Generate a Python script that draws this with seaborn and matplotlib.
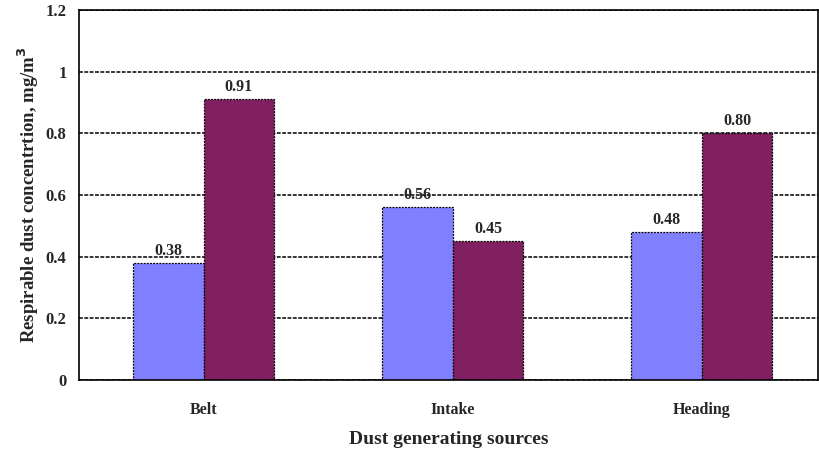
import pandas as pd
import numpy as np
import matplotlib
matplotlib.use("Agg")
import matplotlib.pyplot as plt
import seaborn as sns

# Values
sources = ["Belt", "Intake", "Heading"]
series_a = [0.38, 0.56, 0.48]
series_b = [0.91, 0.45, 0.80]
series_names = ["A", "B"]
bar_colors = ["#8080FF", "#802060"]
y_ticks = [0, 0.2, 0.4, 0.6, 0.8, 1, 1.2]
y_tick_labels = ["0", "0.2", "0.4", "0.6", "0.8", "1", "1.2"]

data = pd.DataFrame({
    "source": sources * 2,
    "value": series_a + series_b,
    "series": [series_names[0]] * 3 + [series_names[1]] * 3,
})

sns.set_style("white")
plt.rcParams['font.family'] = ['Liberation Serif', 'DejaVu Serif']
plt.rcParams['font.weight'] = 'bold'

fig = plt.figure(figsize=(8.19, 4.54), dpi=100)
ax = fig.add_axes([79 / 819, (454 - 380) / 454, 739 / 819, 370 / 454])

sns.barplot(data=data, x="source", y="value", hue="series",
            palette=bar_colors, width=0.57, ax=ax, legend=False,
            edgecolor="black", linewidth=0.9, saturation=1)

for patch in ax.patches:
    patch.set_linestyle((0, (1.5, 1)))

# Value labels above bars
for container in ax.containers:
    ax.bar_label(container, fmt="%.2f", padding=3, fontsize=11.5,
                 fontweight='bold')

ax.set_ylim(0, 1.2)
ax.set_xlim(-0.5, 2.5 - 8 / 249)
ax.set_yticks(y_ticks)
ax.set_yticklabels(y_tick_labels)
ax.yaxis.grid(True, color="black", linestyle=(0, (2.5, 1)), linewidth=1.1)
ax.set_axisbelow(True)

ax.set_xticks([0.5, 1.5], minor=True)
ax.tick_params(axis='x', which='major', length=0, pad=16, labelsize=11.5)
ax.tick_params(axis='x', which='minor', length=5, direction='in',
               width=0.9, color='black')
ax.tick_params(axis='y', length=0, pad=9, labelsize=12)

for spine in ax.spines.values():
    spine.set_visible(True)
    spine.set_color("black")
    spine.set_linestyle((0, (2.5, 1)))
    spine.set_linewidth(1.2)

ax.set_xlabel("Dust generating sources", fontsize=14, fontweight='bold',
              labelpad=9)
ax.set_ylabel("Respirable dust concentrtion, mg/m$^\\mathbf{3}$",
              fontsize=13.5, fontweight='bold', labelpad=3)

plt.savefig("out.png", dpi=100)
